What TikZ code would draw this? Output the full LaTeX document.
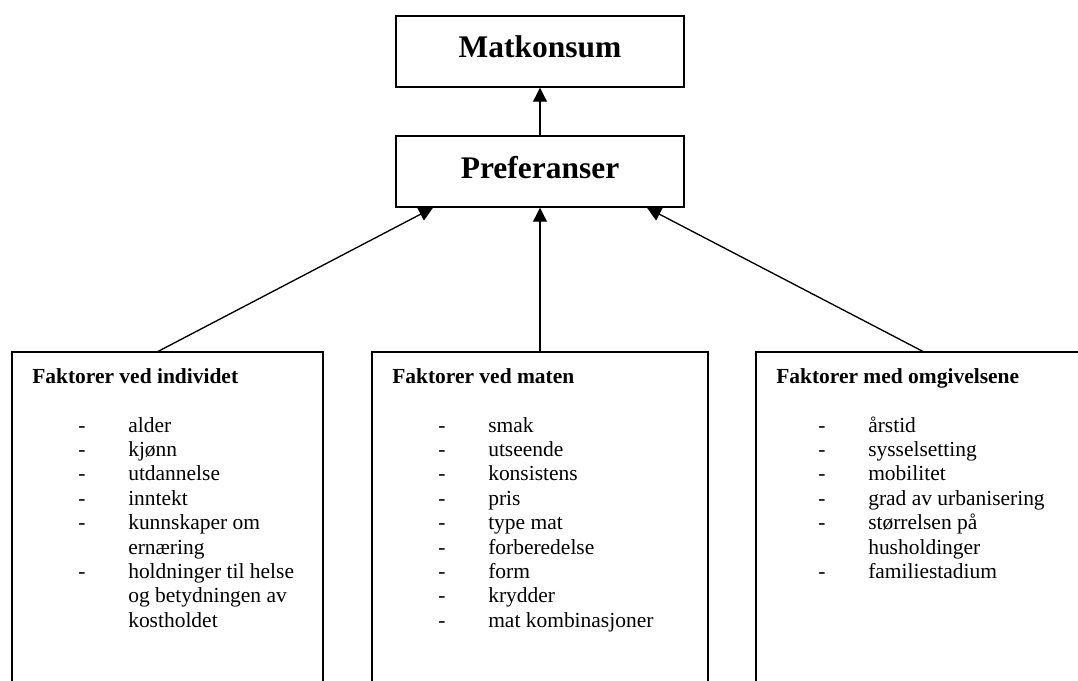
\documentclass[tikz,border=0pt]{standalone}
\usepackage{fontspec}
\setmainfont{Liberation Serif}
\usetikzlibrary{arrows.meta}

\tikzset{
  topbox/.style={draw, line width=1.1pt, minimum width=216pt, minimum height=53.25pt,
    text depth=6.75pt, font=\fontsize{23.6}{28}\selectfont\bfseries},
  factbox/.style={draw, line width=1.1pt, outer sep=0pt, anchor=north west, minimum height=276pt},
  heading/.style={anchor=base west, inner sep=0pt, font=\fontsize{16.1}{18.3}\selectfont\bfseries},
  item/.style={anchor=base west, inner sep=0pt, font=\fontsize{16.1}{18.3}\selectfont},
  dashmark/.style={anchor=base, inner sep=0pt, font=\fontsize{16.1}{18.3}\selectfont},
  arr/.style={-{Triangle[length=10.5pt,width=10.5pt]}, line width=1pt}
}

\begin{document}
\begin{tikzpicture}[x=0.75pt,y=-0.75pt]
    \useasboundingbox (0,0) rectangle (1078,681);
    \clip (0,0) rectangle (1078,681);

    % Bokser oppe
    \node[topbox] (mk) at (540,51.5) {Matkonsum};
    \node[topbox] (pref) at (540,171.5) {Preferanser};

    % Bokser nede (nederste kant utenfor bildet)
    \node[factbox, minimum width=233.25pt] (ind) at (12,352) {};
    \node[factbox, minimum width=252pt] (mat) at (372,352) {};
    \node[factbox, minimum width=252pt] (omg) at (756,352) {};

    % Piler
    \draw[arr] (pref.north) -- (mk.south);
    \draw[arr] ([xshift=-7.9pt]ind.north) -- ([xshift=-80.25pt]pref.south);
    \draw[arr] (mat.north) -- (pref.south);
    \draw[arr] (omg.north) -- ([xshift=80.25pt]pref.south);

    % Faktorer ved individet
    \node[heading] (indh) at (32,383) {Faktorer ved individet};
    \foreach \t [count=\i from 0] in {alder, kjønn, utdannelse, inntekt, kunnskaper om,
        ernæring, holdninger til helse, og betydningen av, kostholdet}
        \node[item] (indt\i) at (128,432+24.4*\i) {\t};
    \foreach \i in {0,1,2,3,4,6}
        \node[dashmark] (indd\i) at (82,432+24.4*\i) {-};

    % Faktorer ved maten
    \node[heading] (math) at (392,383) {Faktorer ved maten};
    \foreach \t [count=\i from 0] in {smak, utseende, konsistens, pris, type mat,
        forberedelse, form, krydder, mat kombinasjoner}
        \node[item] (matt\i) at (488,432+24.4*\i) {\t};
    \foreach \i in {0,...,8}
        \node[dashmark] (matd\i) at (442,432+24.4*\i) {-};

    % Faktorer med omgivelsene
    \node[heading] (omgh) at (776,383) {Faktorer med omgivelsene};
    \foreach \t [count=\i from 0] in {årstid, sysselsetting, mobilitet, grad av urbanisering,
        størrelsen på, husholdinger, familiestadium}
        \node[item] (omgt\i) at (868,432+24.4*\i) {\t};
    \foreach \i in {0,1,2,3,4,6}
        \node[dashmark] (omgd\i) at (822,432+24.4*\i) {-};
\end{tikzpicture}
\end{document}
